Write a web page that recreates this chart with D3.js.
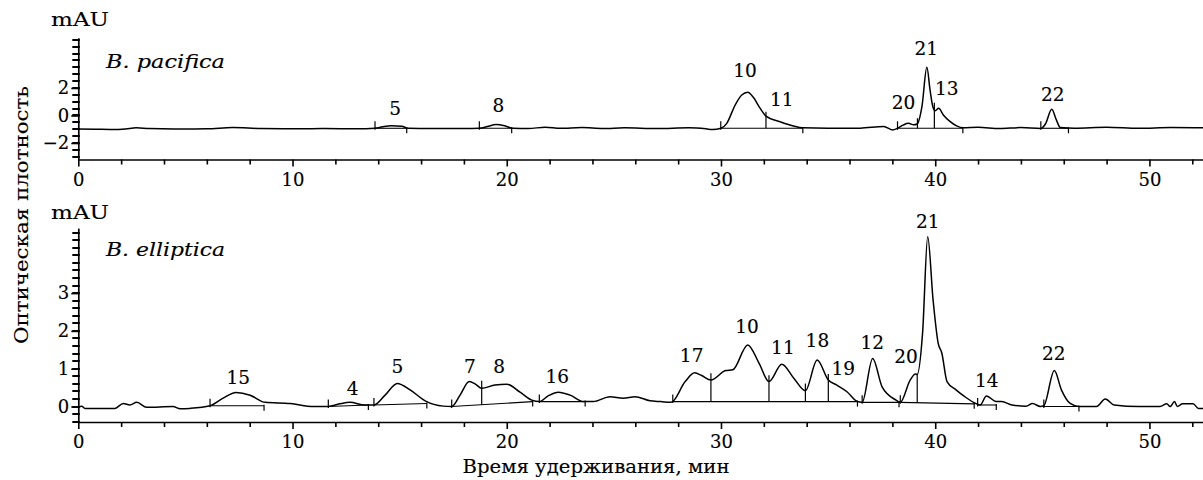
<!DOCTYPE html>
<html><head><meta charset="utf-8">
<script src="https://cdn.jsdelivr.net/npm/d3@7"></script>
<style>
body{margin:0;background:#fff}
text{font-family:"DejaVu Serif",serif;fill:#000;stroke:#000;stroke-width:0.15px}
</style>
</head><body>
<svg id="c" width="1203" height="480"></svg>
<script>
// ---------- data ----------
const timeTicks = d3.range(0, 53, 2);
const timeLabels = [0, 10, 20, 30, 40, 50];
const topYLabels = [-2, 0, 2];
const topYMinor = [-3, -2.5, -2, -1.5, -1, -0.5, 0, 0.5, 1, 1.5, 2, 2.5, 3, 3.5, 4, 4.5, 5, 5.5];
const botYLabels = [0, 1, 2, 3];
const botYMinor = [-0.4, -0.2, 0, 0.2, 0.4, 0.6, 0.8, 1, 1.2, 1.4, 1.6, 1.8, 2, 2.2, 2.4, 2.6, 2.8, 3, 3.2, 3.4, 3.6, 3.8, 4, 4.2, 4.4, 4.6];

const topTitle = "B. pacifica";
const botTitle = "B. elliptica";
const xTitle = "Время удерживания, мин";
const yTitle = "Оптическая плотность";
const unit = "mAU";

// B. pacifica trace [time, mAU]
const topTrace = [[0,-0.98],[0.8,-1.0],[1.6,-1.02],[2.2,-0.98],[2.7,-0.9],[3.3,-0.95],[4.5,-0.98],[6,-0.97],[7.2,-0.88],[8.5,-0.95],[10,-0.97],[11.5,-0.95],[13,-0.97],[13.85,-0.93],[14.2,-0.82],[14.6,-0.74],[15.1,-0.78],[15.4,-0.93],[16.5,-0.95],[18.0,-0.95],[18.72,-0.93],[19.1,-0.8],[19.5,-0.66],[19.9,-0.75],[20.3,-0.93],[21.0,-0.95],[21.8,-0.85],[22.5,-0.93],[23.5,-0.88],[24.5,-0.95],[25.5,-0.9],[27,-0.95],[28.5,-0.9],[29.3,-0.97],[29.6,-1.02],[30.0,-0.93],[30.27,-0.57],[30.66,0.76],[30.97,1.49],[31.25,1.69],[31.51,1.32],[31.83,0.52],[32.1,-0.04],[32.76,-0.45],[33.38,-0.76],[33.8,-0.9],[35,-0.93],[36.5,-0.92],[37.6,-0.8],[38.0,-1.05],[38.24,-0.93],[38.5,-0.7],[38.75,-0.57],[39.0,-0.68],[39.17,-0.6],[39.38,0.64],[39.61,3.5],[39.76,1.85],[39.89,0.64],[40.0,0.35],[40.16,0.52],[40.38,0.04],[40.7,-0.45],[41.0,-0.76],[41.3,-0.9],[42,-0.86],[43,-0.95],[44,-0.88],[44.93,-0.95],[45.15,-0.6],[45.44,0.45],[45.65,-0.3],[45.84,-0.88],[46.5,-0.92],[48,-0.85],[49.5,-0.93],[51,-0.88],[52.5,-0.9]];

// B. elliptica trace [time, mAU]
const botTrace = [[0,-0.02],[0.16,0.01],[0.31,-0.05],[1.71,-0.05],[2.1,0.08],[2.41,0.04],[2.73,0.11],[3.19,-0.02],[4.42,0.0],[4.75,-0.06],[5.21,-0.05],[6.15,0.02],[6.76,0.22],[7.36,0.37],[8.02,0.3],[8.72,0.11],[9.9,0.08],[10.97,0.0],[11.67,0.0],[12.2,0.07],[12.68,0.11],[13.38,0.04],[13.8,0.04],[14.32,0.3],[14.89,0.61],[15.49,0.44],[16.19,0.15],[17.04,0.01],[17.43,0.0],[17.82,0.3],[18.25,0.66],[18.52,0.6],[18.83,0.48],[19.45,0.57],[20.0,0.59],[20.62,0.38],[21.17,0.17],[21.52,0.13],[21.93,0.28],[22.41,0.38],[22.96,0.30],[23.58,0.13],[24.04,0.13],[24.82,0.26],[25.44,0.22],[25.99,0.26],[26.69,0.15],[27.18,0.13],[27.67,0.11],[28.33,0.66],[28.77,0.89],[29.1,0.82],[29.53,0.70],[30.22,0.95],[30.55,0.97],[31.25,1.63],[31.78,1.14],[32.24,0.66],[32.84,1.12],[33.4,0.75],[33.94,0.42],[34.49,1.23],[35.01,0.70],[35.39,0.57],[35.88,0.39],[36.37,0.13],[36.59,0.11],[37.08,1.27],[37.52,0.52],[38.17,0.17],[38.37,0.11],[38.83,0.70],[39.08,0.86],[39.16,0.85],[39.41,1.94],[39.65,4.49],[39.9,2.82],[40.14,1.67],[40.31,1.41],[40.55,0.66],[40.97,0.44],[41.38,0.26],[41.79,0.11],[42.1,0.04],[42.39,0.28],[42.85,0.13],[43.1,0.13],[43.59,0.04],[44.24,0.01],[44.54,0.08],[44.91,0.0],[45.07,0.02],[45.56,0.95],[45.89,0.44],[46.3,0.08],[46.71,0.0],[47.53,0.0],[47.94,0.2],[48.35,0.04],[49.5,0.0],[50.49,0.0],[50.81,0.07],[50.97,0.0],[51.17,0.13],[51.3,0.0],[51.55,0.07],[52.04,0.07],[52.29,-0.05],[52.5,-0.05]];

// integration baselines [tStart, vStart, tEnd, vEnd]
const topBaselines = [[13.85,-0.93,15.33,-0.93],[18.72,-0.93,20.23,-0.93],[29.99,-0.93,33.82,-0.93],[38.24,-0.93,41.29,-0.93],[44.93,-0.93,46.22,-0.93]];
const botBaselines = [[6.15,0.02,8.67,0.02],[11.67,0.0,13.54,0.04],[13.8,0.04,16.27,0.08],[17.43,0.0,21.21,0.13],[21.52,0.13,23.66,0.13],[27.75,0.13,36.37,0.13],[36.59,0.11,38.31,0.11],[38.37,0.11,41.82,0.07],[41.98,0.04,42.85,0.04],[45.07,0.0,46.71,0.0]];
// drop lines [time, top value]
const topDrops = [[32.1,0.28],[39.17,-0.2],[39.96,0.93]];
const botDrops = [[18.83,0.68],[29.53,0.88],[32.24,0.83],[33.94,0.61],[35.01,0.86],[39.16,0.86]];
// peak labels [name, time, mAU]
const topPeakNames = ["5","8","10","11","20","21","13","22"];
const topPeakT = [14.79,19.61,31.12,32.84,38.52,39.58,40.54,45.49];
const topPeakV = [0.52,0.76,3.26,1.18,0.93,4.89,1.98,1.56];
const botPeakNames = ["15","4","5","7","8","16","17","10","11","18","19","12","20","21","14","22"];
const botPeakT = [7.47,12.81,14.89,18.28,19.65,22.36,28.63,31.21,32.89,34.5,35.71,37.06,38.64,39.65,42.41,45.53];
const botPeakV = [0.76,0.48,1.05,1.07,1.07,0.79,1.36,2.11,1.56,1.76,1.0,1.71,1.33,4.89,0.7,1.4];

// ---------- drawing ----------
const svg = d3.select("#c");
svg.append("rect").attr("width",1203).attr("height",480).attr("fill","#fff");
const x = d3.scaleLinear().domain([0, 52.5]).range([78.3, 1203]);
const yTop = d3.scaleLinear().domain([-3.2, 5.65]).range([159.5, 37.8]);
const yBot = d3.scaleLinear().domain([-0.41, 4.72]).range([422, 228.1]);
const fmt = d3.format("");

function styleAxis(sel) {
  sel.attr("font-family", null).attr("font-size", null);
  sel.selectAll(".domain").attr("stroke-width", 1.7);
  sel.selectAll(".tick line").attr("stroke-width", 1.6);
  sel.selectAll(".tick text").style("font-size", "18px");
}

const minorLayers = [];

function panel(y, trace, baselines, drops, names, pt, pv, yLabels, yMinor, title, unitY, titleY) {
  const g = svg.append("g");
  const x0 = x.range()[0], yb = y.range()[0];
  // y axis with labelled major ticks
  const yMajorG = g.append("g").attr("transform", `translate(${x0},0)`)
    .call(d3.axisLeft(y).tickValues(yLabels).tickSizeOuter(0).tickSizeInner(7).tickFormat(d3.format("")));
  styleAxis(yMajorG);
  yMajorG.selectAll(".tick line").attr("x1", 1.5);
  yMajorG.selectAll(".tick text").attr("x", -9);
  // x axis
  const xa = g.append("g").attr("transform", `translate(0,${yb})`)
    .call(d3.axisBottom(x).tickValues(timeTicks).tickSizeOuter(0).tickSizeInner(5)
      .tickFormat(d => timeLabels.includes(d) ? fmt(d) : ""));
  xa.selectAll(".tick line").attr("y2", d => timeLabels.includes(d) ? 7 : 5);
  styleAxis(xa);
  xa.selectAll(".tick text").attr("y", 9).attr("dy", "0.95em");

  // trace
  g.append("path").datum(trace)
    .attr("fill", "none").attr("stroke", "#000").attr("stroke-width", 1.5)
    .attr("d", d3.line().x(d => x(d[0])).y(d => y(d[1])).curve(d3.curveMonotoneX));
  // integration baselines
  const bl = g.selectAll(".bl").data(baselines).enter().append("g");
  bl.append("line").attr("x1", d => x(d[0])).attr("x2", d => x(d[2]))
    .attr("y1", d => y(d[1])).attr("y2", d => y(d[3])).attr("stroke", "#000").attr("stroke-width", 1.1);
  bl.append("line").attr("x1", d => x(d[0])).attr("x2", d => x(d[0]))
    .attr("y1", d => y(d[1]) - 7).attr("y2", d => y(d[1]) + 1.5).attr("stroke", "#000").attr("stroke-width", 1.2);
  bl.append("line").attr("x1", d => x(d[2])).attr("x2", d => x(d[2]))
    .attr("y1", d => y(d[3]) - 1).attr("y2", d => y(d[3]) + 5).attr("stroke", "#000").attr("stroke-width", 1.2);
  // drop lines
  function baseAt(t) {
    const b = baselines.find(b => t >= b[0] && t <= b[2]);
    return b[1] + (b[3] - b[1]) * (t - b[0]) / (b[2] - b[0]);
  }
  g.selectAll(".dl").data(drops).enter().append("line")
    .attr("x1", d => x(d[0])).attr("x2", d => x(d[0]))
    .attr("y1", d => y(baseAt(d[0]))).attr("y2", d => y(d[1]))
    .attr("stroke", "#000").attr("stroke-width", 1.2);
  // peak labels
  g.selectAll(".pl").data(names).enter().append("text")
    .attr("x", (d, i) => x(pt[i])).attr("y", (d, i) => y(pv[i]))
    .attr("dy", "0.36em").attr("text-anchor", "middle").style("font-size", "18.5px").text(d => d);
  // unit & title
  g.append("text").attr("x", 51).attr("y", unitY).style("font-size", "19px")
    .attr("textLength", 58).attr("lengthAdjust", "spacingAndGlyphs").text(unit);
  g.append("text").attr("x", 106).attr("y", titleY).style("font-size", "19px").style("font-style", "italic")
    .attr("textLength", 119).attr("lengthAdjust", "spacingAndGlyphs").text(title);
  minorLayers.push([y, yMinor]);
}

panel(yTop, topTrace, topBaselines, topDrops, topPeakNames, topPeakT, topPeakV, topYLabels, topYMinor, topTitle, 26, 68);
panel(yBot, botTrace, botBaselines, botDrops, botPeakNames, botPeakT, botPeakV, botYLabels, botYMinor, botTitle, 219, 256);

// y minor ticks, drawn last as one path per panel
minorLayers.forEach(([y, vals]) => {
  const x0 = x.range()[0];
  const p = d3.path();
  vals.forEach(v => { const yy = Math.round(y(v)); p.moveTo(x0 - 6, yy); p.lineTo(x0 + 1.5, yy); });
  svg.append("path").attr("d", p.toString()).attr("fill", "none").attr("stroke", "#000").attr("stroke-width", 2);
});

svg.append("text").attr("x", 596).attr("y", 473).attr("text-anchor", "middle").style("font-size", "19px")
  .attr("textLength", 267).attr("lengthAdjust", "spacingAndGlyphs").text(xTitle);
svg.append("text").attr("transform", "translate(28,215) rotate(-90)").attr("text-anchor", "middle").style("font-size", "19px")
  .attr("textLength", 258).attr("lengthAdjust", "spacingAndGlyphs").text(yTitle);
</script>
</body></html>
